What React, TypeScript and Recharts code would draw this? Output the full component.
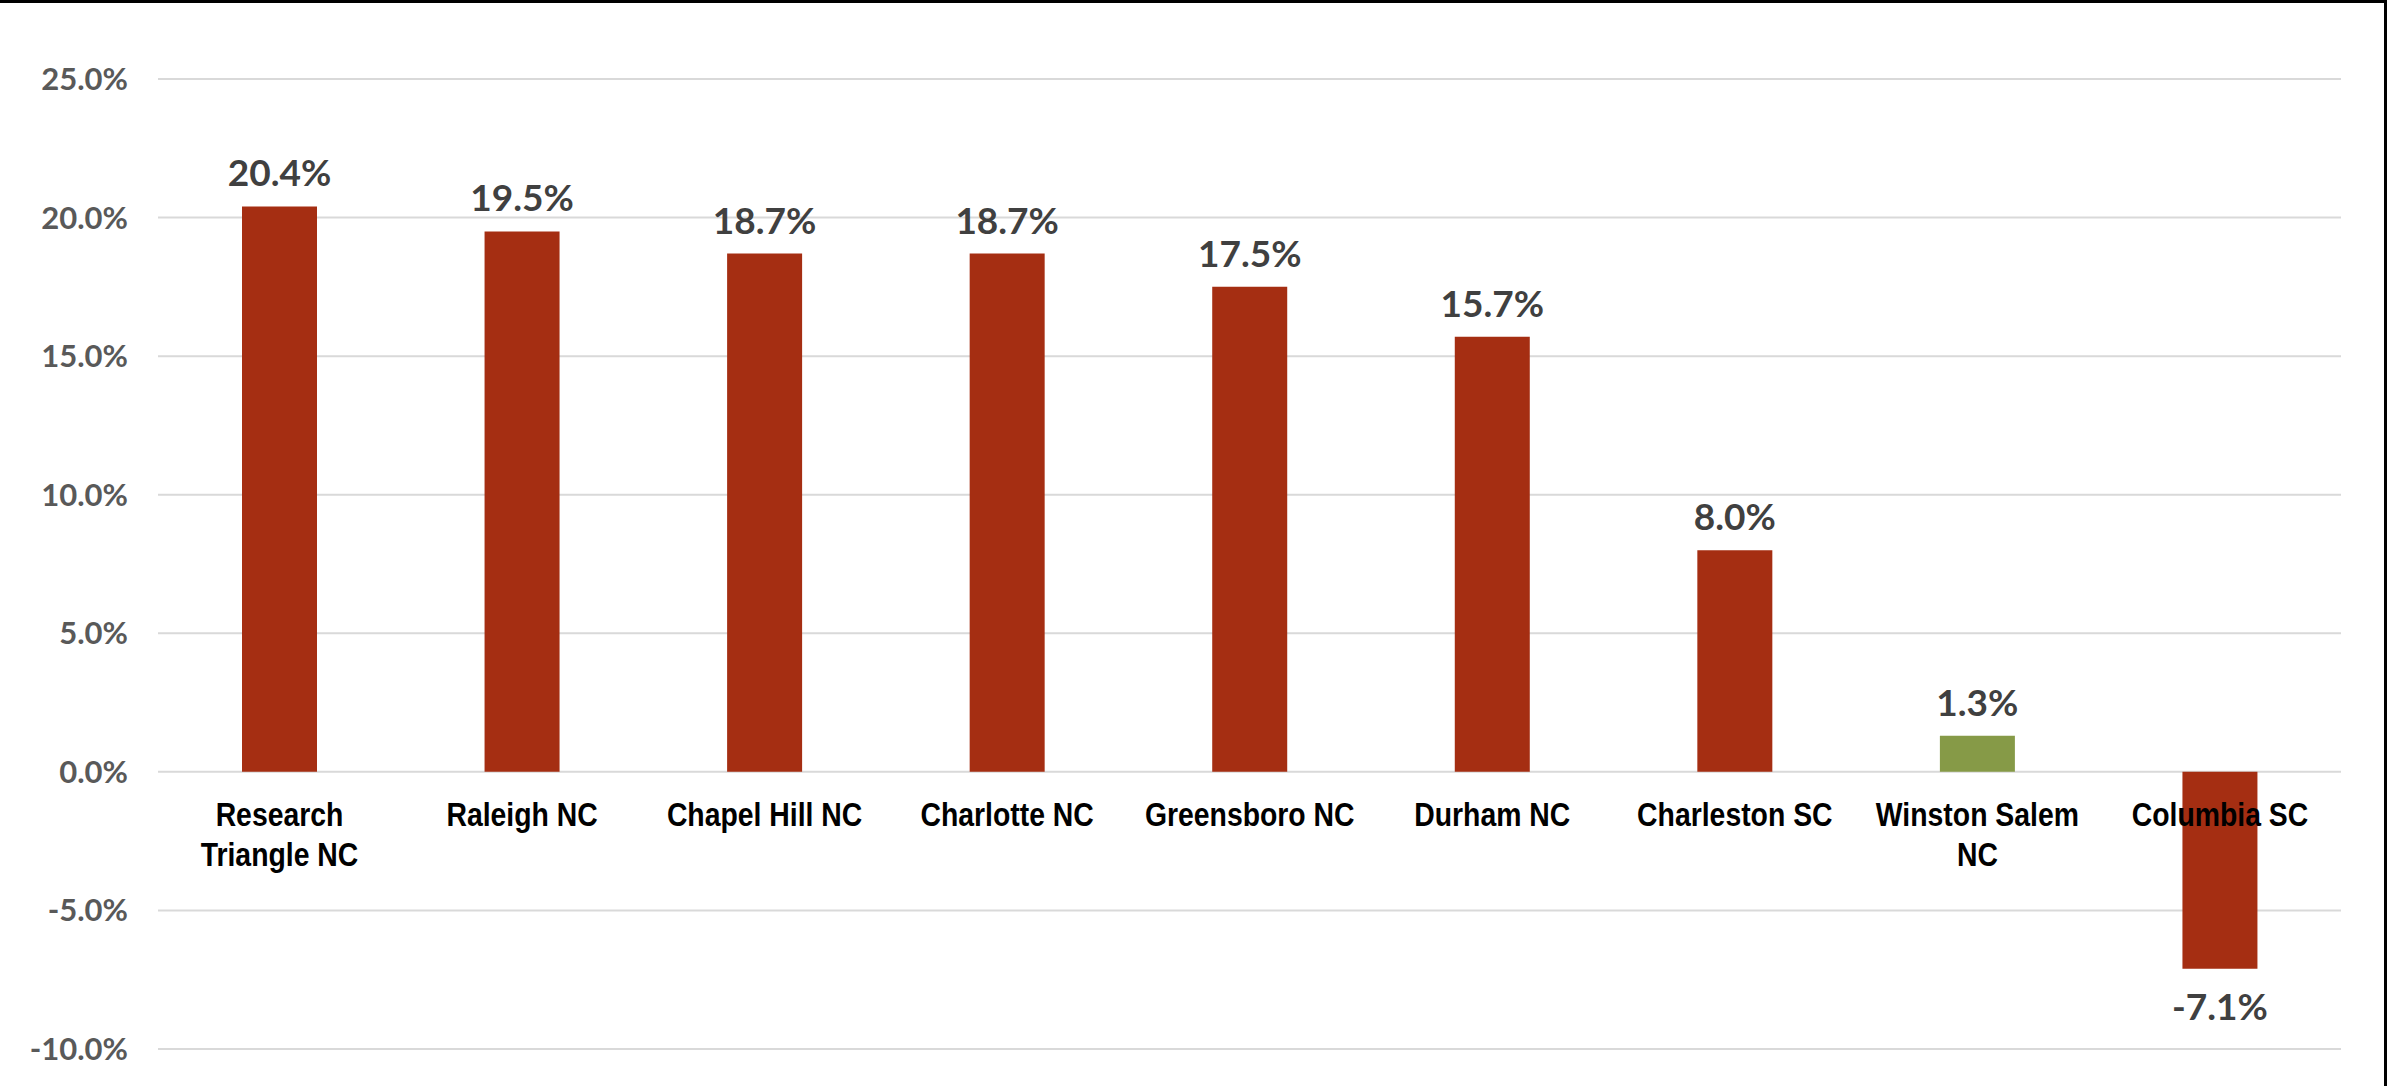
import React from "react";
import { BarChart, Bar, XAxis, YAxis, CartesianGrid, Cell, LabelList } from "recharts";

const categories: string[] = [
  "Research Triangle NC",
  "Raleigh NC",
  "Chapel Hill NC",
  "Charlotte NC",
  "Greensboro NC",
  "Durham NC",
  "Charleston SC",
  "Winston Salem NC",
  "Columbia SC",
];

// how each category name is broken over lines under the zero line
const categoryLines: string[][] = [
  ["Research", "Triangle NC"],
  ["Raleigh NC"],
  ["Chapel Hill NC"],
  ["Charlotte NC"],
  ["Greensboro NC"],
  ["Durham NC"],
  ["Charleston SC"],
  ["Winston Salem", "NC"],
  ["Columbia SC"],
];

const growth: number[] = [20.4, 19.5, 18.7, 18.7, 17.5, 15.7, 8.0, 1.3, -7.1];

const yTicks: number[] = [-10, -5, 0, 5, 10, 15, 20, 25];

const highlighted = "Winston Salem NC";

const data = categories.map((name, i) => ({ name, idx: i, value: growth[i] }));

const RED = "#A52E12";
const GREEN = "#869A47";
const NUM_FONT = "'Lato', 'DejaVu Sans', sans-serif";
const CAT_FONT = "'Liberation Sans Narrow', 'Arial Narrow', 'Liberation Sans', sans-serif";

const ValueLabel = (props: any) => {
  const { x, y, width, height, value } = props;
  const top = Math.min(y, y + height);
  const bottom = Math.max(y, y + height);
  const cx = x + width / 2;
  const neg = value < 0;
  return (
    <text
      x={cx}
      y={neg ? bottom + 51 : top - 20}
      textAnchor="middle"
      fill="#404040"
      fontSize={37}
      fontWeight="bold"
      fontFamily={NUM_FONT}
    >
      {value.toFixed(1) + "%"}
    </text>
  );
};

// Arial Narrow is not installed, so squeeze the regular face horizontally
const CategoryLabel = (props: any) => {
  const { x, y, width, height, value } = props;
  const idx = value as number;
  const v = growth[idx];
  const zero = v < 0 ? Math.min(y, y + height) : Math.max(y, y + height);
  const cx = x + width / 2;
  return (
    <g transform={`translate(${cx}, ${zero}) scale(0.86, 1)`}>
      <text
        textAnchor="middle"
        fill="#000"
        fontSize={33}
        fontWeight="bold"
        fontFamily={CAT_FONT}
      >
        {categoryLines[idx].map((line, j) => (
          <tspan key={j} x={0} y={54 + j * 40}>
            {line}
          </tspan>
        ))}
      </text>
    </g>
  );
};

const App: React.FC = () => {
  return (
    <div style={styles.frame}>
      <div style={styles.chart}>
        <BarChart
          width={2387}
          height={1086}
          data={data}
          margin={{ top: 79, right: 46, bottom: 37, left: 0 }}
          barSize={75}
        >
          <CartesianGrid vertical={false} stroke="#D9D9D9" strokeWidth={2} />
          <XAxis dataKey="name" hide />
          <YAxis
            width={158}
            domain={[-10, 25]}
            ticks={yTicks}
            interval={0}
            axisLine={false}
            tickLine={false}
            tickMargin={24}
            tickFormatter={(v: number) => v.toFixed(1) + "%"}
            tick={{ fill: "#595959", fontSize: 31, fontWeight: "bold", fontFamily: NUM_FONT }}
          />
          <Bar dataKey="value" isAnimationActive={false}>
            {data.map((d) => (
              <Cell key={d.name} fill={d.name === highlighted ? GREEN : RED} />
            ))}
            <LabelList dataKey="value" content={ValueLabel} />
            <LabelList dataKey="idx" content={CategoryLabel} />
          </Bar>
        </BarChart>
      </div>
      <div style={styles.border} />
    </div>
  );
};

const styles: { [key: string]: React.CSSProperties } = {
  frame: {
    position: "absolute",
    left: 0,
    top: 0,
    width: 2387,
    height: 1086,
    background: "#fff",
    overflow: "hidden",
  },
  chart: {
    position: "absolute",
    left: 0,
    top: 0,
  },
  border: {
    position: "absolute",
    left: 0,
    top: 0,
    width: 2387,
    height: 1086,
    boxSizing: "border-box",
    borderTop: "3px solid #000",
    borderRight: "3px solid #000",
    pointerEvents: "none",
  },
};

export default App;
